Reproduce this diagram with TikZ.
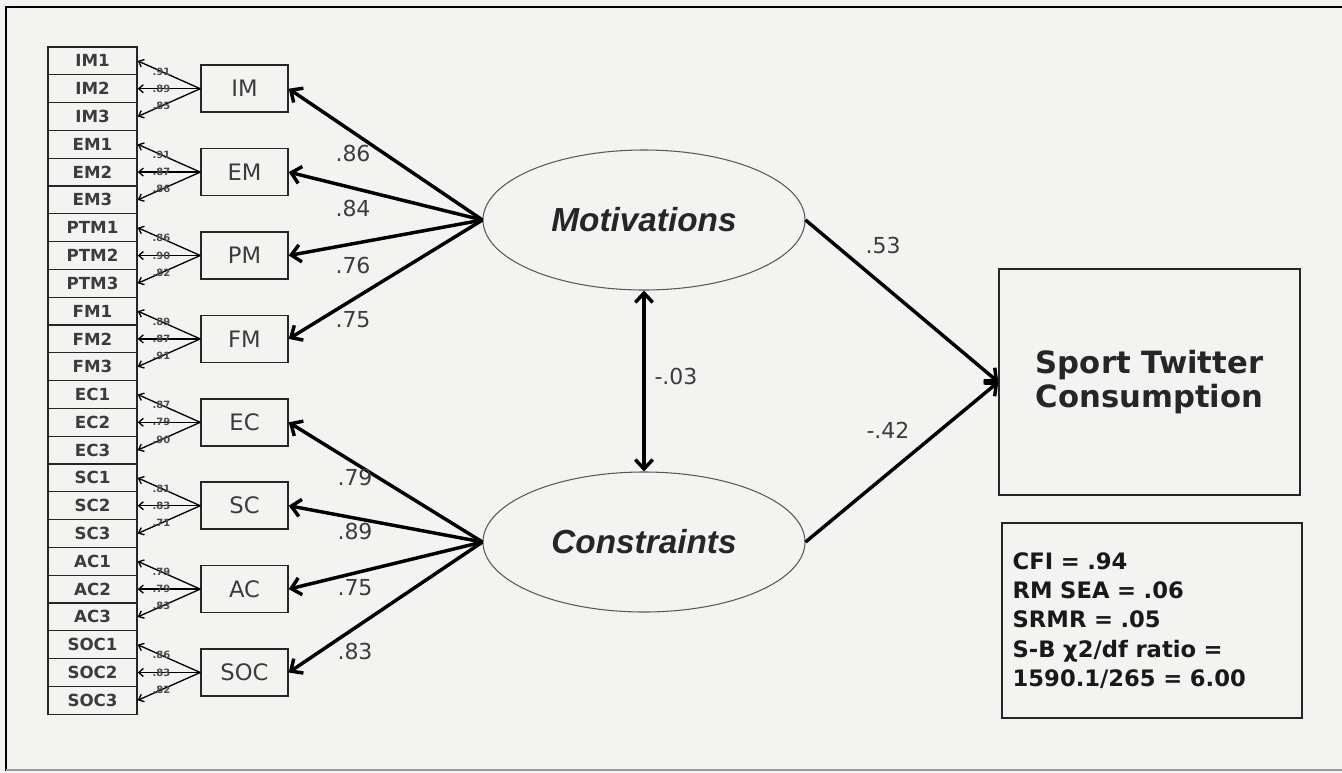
\documentclass[tikz,border=0pt]{standalone}
\usepackage{fontspec}
\setmainfont{DejaVu Sans}
\newfontfamily\arialfont{Liberation Sans}
\usetikzlibrary{arrows.meta,shapes.geometric}

\definecolor{paper}{RGB}{243,244,242}
\definecolor{inkgray}{RGB}{60,60,60}

\tikzset{every picture/.style={line width=0.75pt}}
\tikzset{
  indic/.style={draw=black!85, line width=1pt, minimum width=66.75pt, minimum height=20.85pt, inner sep=0pt, text=inkgray, font=\bfseries\fontsize{12.5}{12.5}\selectfont},
  factor/.style={draw=black!85, line width=1.1pt, minimum width=65.25pt, minimum height=35.25pt, inner sep=0pt, text=inkgray, font=\fontsize{17}{17}\selectfont},
  latent/.style={draw=black!65, ellipse, line width=0.8pt, minimum width=241.5pt, minimum height=105pt, inner sep=0pt, text=black!85, font=\arialfont\bfseries\itshape\fontsize{25}{25}\selectfont},
  outcome/.style={draw=black!85, line width=1.1pt, minimum width=225.75pt, minimum height=169.5pt, align=center, text=black!85, font=\bfseries\fontsize{23}{26}\selectfont},
  fitbox/.style={draw=black!85, line width=1.1pt, minimum height=146.25pt, text width=209pt, inner xsep=8pt, align=left, text=black!90, font=\bfseries\fontsize{17}{22}\selectfont},
  bigload/.style={inner sep=0.75pt, text=inkgray, font=\fontsize{16.5}{16.5}\selectfont},
  smload/.style={inner sep=0pt, text=black!70, font=\bfseries\fontsize{7.5}{7.5}\selectfont},
  path arr/.style={line width=2.6pt, -{Straight Barb[length=7pt,width=13pt]}},
  ind arr/.style={line width=1pt, -{Straight Barb[length=3.5pt,width=6pt]}},
}

\begin{document}
\begin{tikzpicture}[x=0.75pt,y=0.75pt,yscale=-1,xscale=1]
\useasboundingbox (0,0) rectangle (1342,772);
\fill [paper] (0,0) rectangle (1342,772);

%Frame
\draw [line width=2.2pt] (1342,7) -- (6,7) -- (6,771) ;
\draw [black!40, line width=1pt] (6,770) -- (1342,770) ;

%Shape: Rectangle (indicators)
\draw (92.5,60.9) node [indic] (im1) {IM1};
\draw (92.5,88.7) node [indic] (im2) {IM2};
\draw (92.5,116.5) node [indic] (im3) {IM3};
\draw (92.5,144.3) node [indic] (em1) {EM1};
\draw (92.5,172.1) node [indic] (em2) {EM2};
\draw (92.5,199.9) node [indic] (em3) {EM3};
\draw (92.5,227.7) node [indic] (pm1) {PTM1};
\draw (92.5,255.5) node [indic] (pm2) {PTM2};
\draw (92.5,283.3) node [indic] (pm3) {PTM3};
\draw (92.5,311.1) node [indic] (fm1) {FM1};
\draw (92.5,338.9) node [indic] (fm2) {FM2};
\draw (92.5,366.7) node [indic] (fm3) {FM3};
\draw (92.5,394.5) node [indic] (ec1) {EC1};
\draw (92.5,422.3) node [indic] (ec2) {EC2};
\draw (92.5,450.1) node [indic] (ec3) {EC3};
\draw (92.5,477.9) node [indic] (sc1) {SC1};
\draw (92.5,505.7) node [indic] (sc2) {SC2};
\draw (92.5,533.5) node [indic] (sc3) {SC3};
\draw (92.5,561.3) node [indic] (ac1) {AC1};
\draw (92.5,589.1) node [indic] (ac2) {AC2};
\draw (92.5,616.9) node [indic] (ac3) {AC3};
\draw (92.5,644.7) node [indic] (soc1) {SOC1};
\draw (92.5,672.5) node [indic] (soc2) {SOC2};
\draw (92.5,700.3) node [indic] (soc3) {SOC3};

%Shape: Rectangle (first order factors)
\draw (244.5,88.7) node [factor] (im) {IM};
\draw (244.5,172.1) node [factor] (em) {EM};
\draw (244.5,255.5) node [factor] (pm) {PM};
\draw (244.5,338.9) node [factor] (fm) {FM};
\draw (244.5,422.3) node [factor] (ec) {EC};
\draw (244.5,505.7) node [factor] (sc) {SC};
\draw (244.5,589.1) node [factor] (ac) {AC};
\draw (244.5,672.5) node [factor] (soc) {SOC};

%Shape: Ellipse
\draw (644,220) node [latent] (mot) {Motivations};
\draw (644,542) node [latent] (con) {Constraints};

%Shape: Rectangle
\draw (1149.5,382) node [outcome] (stc) {Sport Twitter\\Consumption};
\draw (1152,620.5) node [fitbox] (fit) {CFI = .94\\RM SEA = .06\\SRMR = .05\\S-B χ2/df ratio =\\1590.1/265 = 6.00};

%Straight Lines (factor to items)
\draw [ind arr] (im.west) -- (im1.east) node [smload, pos=0.62] {.91};
\draw [ind arr] (im.west) -- (im2.east) node [smload, pos=0.62] {.89};
\draw [ind arr] (im.west) -- (im3.east) node [smload, pos=0.62] {.85};
\draw [ind arr] (em.west) -- (em1.east) node [smload, pos=0.62] {.91};
\draw [ind arr] (em.west) -- (em2.east) node [smload, pos=0.62] {.87};
\draw [ind arr] (em.west) -- (em3.east) node [smload, pos=0.62] {.86};
\draw [ind arr] (pm.west) -- (pm1.east) node [smload, pos=0.62] {.86};
\draw [ind arr] (pm.west) -- (pm2.east) node [smload, pos=0.62] {.90};
\draw [ind arr] (pm.west) -- (pm3.east) node [smload, pos=0.62] {.82};
\draw [ind arr] (fm.west) -- (fm1.east) node [smload, pos=0.62] {.89};
\draw [ind arr] (fm.west) -- (fm2.east) node [smload, pos=0.62] {.87};
\draw [ind arr] (fm.west) -- (fm3.east) node [smload, pos=0.62] {.91};
\draw [ind arr] (ec.west) -- (ec1.east) node [smload, pos=0.62] {.87};
\draw [ind arr] (ec.west) -- (ec2.east) node [smload, pos=0.62] {.79};
\draw [ind arr] (ec.west) -- (ec3.east) node [smload, pos=0.62] {.90};
\draw [ind arr] (sc.west) -- (sc1.east) node [smload, pos=0.62] {.81};
\draw [ind arr] (sc.west) -- (sc2.east) node [smload, pos=0.62] {.83};
\draw [ind arr] (sc.west) -- (sc3.east) node [smload, pos=0.62] {.71};
\draw [ind arr] (ac.west) -- (ac1.east) node [smload, pos=0.62] {.79};
\draw [ind arr] (ac.west) -- (ac2.east) node [smload, pos=0.62] {.79};
\draw [ind arr] (ac.west) -- (ac3.east) node [smload, pos=0.62] {.83};
\draw [ind arr] (soc.west) -- (soc1.east) node [smload, pos=0.62] {.86};
\draw [ind arr] (soc.west) -- (soc2.east) node [smload, pos=0.62] {.83};
\draw [ind arr] (soc.west) -- (soc3.east) node [smload, pos=0.62] {.82};

%Straight Lines (second order)
\draw [path arr] (mot.west) -- (im.east) ;
\draw [path arr] (mot.west) -- (em.east) ;
\draw [path arr] (mot.west) -- (pm.east) ;
\draw [path arr] (mot.west) -- (fm.east) ;
\draw [path arr] (con.west) -- (ec.east) ;
\draw [path arr] (con.west) -- (sc.east) ;
\draw [path arr] (con.west) -- (ac.east) ;
\draw [path arr] (con.west) -- (soc.east) ;
\draw [path arr, {Straight Barb[length=7pt,width=13pt]}-{Straight Barb[length=7pt,width=13pt]}] (mot.south) -- (con.north) ;
\draw [path arr] (mot.east) -- (stc.west) ;
\draw [path arr] (con.east) -- (stc.west) ;

% Text Node
\draw (353,153) node [bigload] (lim) {.86};
\draw (353,208) node [bigload] (lem) {.84};
\draw (353,265) node [bigload] (lpm) {.76};
\draw (353,320) node [bigload] (lfm) {.75};
\draw (355,477) node [bigload] (lec) {.79};
\draw (355,531) node [bigload] (lsc) {.89};
\draw (355,588) node [bigload] (lac) {.75};
\draw (355,651) node [bigload] (lsoc) {.83};
\draw (676,376) node [bigload] (lcov) {-.03};
\draw (883,245) node [bigload] (lmot) {.53};
\draw (888,430) node [bigload] (lcon) {-.42};

\end{tikzpicture}
\end{document}
